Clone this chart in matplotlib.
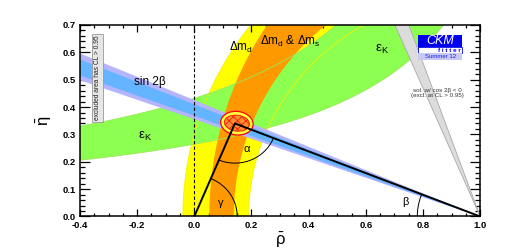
import numpy as np
import matplotlib
matplotlib.use("Agg")
import matplotlib.pyplot as plt
from matplotlib.patches import Ellipse, Rectangle

plt.rcParams["font.family"] = ["Liberation Sans", "DejaVu Sans"]
plt.rcParams["mathtext.fontset"] = "custom"
plt.rcParams["mathtext.rm"] = "Liberation Sans"
plt.rcParams["mathtext.it"] = "Liberation Sans:italic"
plt.rcParams["hatch.linewidth"] = 0.6

# apex of the unitarity triangle (rho_bar, eta_bar)
APEX = (0.142, 0.340)

# sin 2beta band, edges given as tan(beta): outer (95%) and inner (68%)
SIN2B_OUTER = [0.3564, 0.4264]
SIN2B_INNER = [0.3693, 0.4107]

# dm_d and dm_d & dm_s bands around (1, 0): (half-axis in rho, half-axis in eta)
DMD_OUTER = (1.04, 1.10)
DMD_INNER = (0.81, 0.81)
DMS_OUTER = (0.9475, 1.1325)
DMS_INNER = (0.862, 0.898)

# eps_K band edges, eta = k / (d - rho)
EPSK_LOW = (0.37, 1.40)
EPSK_HIGH = (0.56, 1.297)

# apex fit region: centre, (width, height), angle
FIT_CENTER = (0.149, 0.341)
FIT_95 = (0.114, 0.086)
FIT_68 = (0.088, 0.058)
FIT_ANGLE = -8

COLORS = {
    "yellow": "#ffff00",
    "orange": "#ff9900",
    "green": "#8cff50",
    "blue": "#64b4ff",
    "lavender": "#b4b4ff",
    "gray": "#dcdcdc",
}


def ring(outer, inner):
    t = np.linspace(0, np.pi / 2, 200)
    xo = 1 - outer[0] * np.cos(t)
    yo = outer[1] * np.sin(t)
    xi = 1 - inner[0] * np.cos(t[::-1])
    yi = inner[1] * np.sin(t[::-1])
    return np.r_[xo, xi], np.r_[yo, yi]


def ring_edge(ax, half_axes, color):
    t = np.linspace(0, np.pi / 2, 200)
    ax.plot(1 - half_axes[0] * np.cos(t), half_axes[1] * np.sin(t), color=color, lw=0.6, zorder=3)


def hyper(rho, par):
    k, d = par
    return np.minimum(k / np.clip(d - rho, 1e-3, None), 3)


fig = plt.figure(figsize=(5.06, 2.52), dpi=100)
ax = fig.add_axes([0.158, 0.141, 0.791, 0.760])

rho = np.linspace(-0.45, 1.3, 600)

# dm_d (yellow)
x, y = ring(DMD_OUTER, DMD_INNER)
ax.fill(x, y, color=COLORS["yellow"], lw=0, zorder=1)

# eps_K (green)
ax.fill_between(rho, hyper(rho, EPSK_LOW), hyper(rho, EPSK_HIGH), color=COLORS["green"], lw=0, zorder=2)
ring_edge(ax, DMD_OUTER, "#f2f200")
ring_edge(ax, DMD_INNER, "#f2f200")

# dm_d & dm_s (orange)
x, y = ring(DMS_OUTER, DMS_INNER)
ax.fill(x, y, color=COLORS["orange"], lw=0, zorder=4)
ax.plot(rho, hyper(rho, EPSK_LOW), color="#9be85a", lw=0.6, zorder=5)
ax.plot(rho, hyper(rho, EPSK_HIGH), color="#9be85a", lw=0.6, zorder=5)

# second sin 2beta solution (cos 2beta < 0)
r2 = np.linspace(0.5, 1.0, 50)
lo2 = (1 - r2) / SIN2B_OUTER[1]
hi2 = (1 - r2) / SIN2B_OUTER[0]
ax.fill_between(r2, lo2, hi2, color=COLORS["gray"], lw=0, zorder=6)
ax.plot(r2, lo2, color="#a8a8a8", lw=0.6, zorder=6)
ax.plot(r2, hi2, color="#a8a8a8", lw=0.6, zorder=6)

# sin 2beta (blue)
r1 = np.linspace(-0.45, 1.0, 100)
ax.fill_between(r1, (1 - r1) * SIN2B_OUTER[0], (1 - r1) * SIN2B_OUTER[1], color=COLORS["lavender"], lw=0, zorder=7)
ax.fill_between(r1, (1 - r1) * SIN2B_INNER[0], (1 - r1) * SIN2B_INNER[1], color=COLORS["blue"], lw=0, zorder=7)

# global fit at the apex
ax.add_patch(Ellipse(FIT_CENTER, *FIT_95, angle=FIT_ANGLE, facecolor="#ffff40", edgecolor="red", lw=0.9, zorder=8))
ax.add_patch(Ellipse(FIT_CENTER, *FIT_68, angle=FIT_ANGLE, facecolor="#ff8c30", edgecolor="#ee2200",
                     hatch="xxxx", lw=0.7, zorder=9))

# unitarity triangle
ax.plot([0, APEX[0], 1], [0, APEX[1], 0], color="black", lw=1.4, zorder=10)
ax.axvline(0, color="black", ls=(0, (3, 2)), lw=0.8, zorder=10)

gam = np.arctan2(APEX[1], APEX[0])
bet = np.arctan2(APEX[1], 1 - APEX[0])
t = np.linspace(0, gam, 60)
ax.plot(0.15 * np.cos(t), 0.15 * np.sin(t), color="black", lw=0.7, zorder=10)
t = np.linspace(np.pi + gam, 2 * np.pi - bet, 60)
ax.plot(APEX[0] + 0.145 * np.cos(t), APEX[1] + 0.145 * np.sin(t), color="black", lw=0.7, zorder=10)
t = np.linspace(0, bet, 60)
ax.plot(1 - 0.22 * np.cos(t), 0.22 * np.sin(t), color="black", lw=0.7, zorder=10)

# labels
ax.text(0.091, 0.048, "γ", fontsize=8, ha="center", va="center", zorder=11)
ax.text(0.183, 0.245, "α", fontsize=8, ha="center", va="center", zorder=11)
ax.text(0.738, 0.054, "β", fontsize=8, ha="center", va="center", zorder=11)
ax.text(-0.155, 0.492, "sin 2β", fontsize=8.5, ha="center", va="center", zorder=11)
ax.text(-0.172, 0.291, r"$\mathregular{\varepsilon_K}$", fontsize=9.5, ha="center", va="center", zorder=11)
ax.text(0.657, 0.609, r"$\mathregular{\varepsilon_K}$", fontsize=9.5, ha="center", va="center", zorder=11)
ax.text(0.164, 0.616, r"$\mathregular{\Delta m_d}$", fontsize=8.5, ha="center", va="center", zorder=11)
ax.text(0.335, 0.641, r"$\mathregular{\Delta m_d}$ & $\mathregular{\Delta m_s}$", fontsize=8.5,
        ha="center", va="center", zorder=11)
ax.text(0.851, 0.451, "sol. w/ cos 2β < 0\n(excl. at CL > 0.95)", fontsize=4.5,
        color="#333333", ha="center", va="center", linespacing=1.2, zorder=11)
ax.text(-0.339, 0.506, "excluded area has CL > 0.95", fontsize=4.8, rotation=90, ha="center", va="center",
        color="#222222", zorder=11,
        bbox=dict(boxstyle="square,pad=0.25", facecolor="#e6e6e6", edgecolor="#999999", lw=0.6))

# CKMfitter logo
tr = ax.transAxes
ax.add_patch(Rectangle((0.845, 0.885), 0.11, 0.063, transform=tr, facecolor="#0000ee", edgecolor="none", zorder=12))
ax.add_patch(Rectangle((0.845, 0.853), 0.11, 0.032, transform=tr, facecolor="white", edgecolor="#0000ee", lw=0.6, zorder=12))
ax.add_patch(Rectangle((0.845, 0.817), 0.11, 0.034, transform=tr, facecolor="#c8c8f5", edgecolor="none", zorder=12))
ax.text(0.90, 0.916, "CKM", transform=tr, fontsize=9, style="italic", color="white", ha="center", va="center", zorder=13)
ax.text(0.952, 0.869, "f i t t e r", transform=tr, fontsize=4.5, fontweight="bold", color="#0000ee",
        ha="right", va="center", zorder=13)
ax.text(0.90, 0.834, "Summer 12", transform=tr, fontsize=4.3, color="#2020dd", ha="center", va="center", zorder=13)

ax.set_xlim(-0.4, 1.0)
ax.set_ylim(0, 0.7)
ax.set_xticks(np.arange(-0.4, 1.01, 0.2))
ax.set_xticks(np.arange(-0.4, 1.01, 0.05), minor=True)
ax.set_yticks(np.arange(0, 0.71, 0.1))
ax.set_yticks(np.arange(0, 0.71, 0.02), minor=True)
ax.xaxis.set_major_formatter(matplotlib.ticker.FormatStrFormatter("%.1f"))
ax.yaxis.set_major_formatter(matplotlib.ticker.FormatStrFormatter("%.1f"))
ax.tick_params(which="both", direction="in", top=True, right=True, width=0.9, labelsize=6.8, pad=3)
ax.tick_params(axis="x", which="major", length=5)
ax.tick_params(axis="x", which="minor", length=2.5)
ax.tick_params(axis="y", which="major", length=7)
ax.tick_params(axis="y", which="minor", length=3.5)
for lab in ax.get_xticklabels() + ax.get_yticklabels():
    lab.set_fontweight("bold")
for s in ax.spines.values():
    s.set_linewidth(1.1)
    s.set_zorder(14)

ax.set_xlabel(r"$\mathregular{\bar{\rho}}$", fontsize=12, labelpad=1)
ax.set_ylabel(r"$\mathregular{\bar{\eta}}$", fontsize=12, labelpad=6)

fig.savefig("out.png", dpi=100)
